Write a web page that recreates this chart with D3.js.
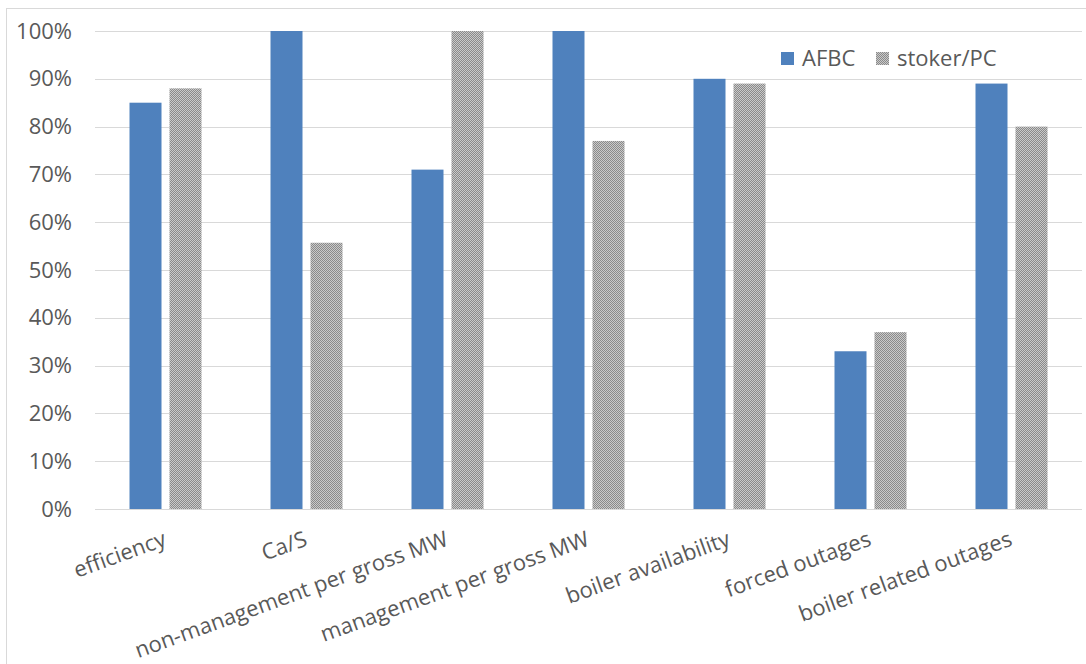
<!DOCTYPE html>
<html>
<head>
<meta charset="utf-8">
<script src="https://cdn.jsdelivr.net/npm/d3@7"></script>
<style>
  html, body { margin: 0; padding: 0; background: #fff; }
  svg { display: block; font-family: "Open Sans", "Noto Sans", sans-serif; }
</style>
</head>
<body>
<svg id="chart" width="1086" height="664"></svg>
<script>
// Relative comparison of AFBC vs stoker/PC boilers
const categories = [
  "efficiency",
  "Ca/S",
  "non-management per gross MW",
  "management per gross MW",
  "boiler availability",
  "forced outages",
  "boiler related outages"
];
const seriesNames = ["AFBC", "stoker/PC"];
const afbcValues = [85, 100, 71, 100, 90, 33, 89];
const stokerValues = [88, 55.7, 100, 77, 89, 37, 80];
const yTicks = [0, 10, 20, 30, 40, 50, 60, 70, 80, 90, 100];

const W = 1086, H = 664;
const plot = { left: 95, right: 1082, top: 31, bottom: 509 };
const FONT = "22px";

const svg = d3.select("#chart");

// hatched fill for the stoker/PC series
const defs = svg.append("defs");
const pat = defs.append("pattern")
  .attr("id", "checker")
  .attr("patternUnits", "userSpaceOnUse")
  .attr("width", 2).attr("height", 2);
pat.append("rect").attr("width", 2).attr("height", 2).attr("fill", "#c9c9c9");
pat.append("rect").attr("width", 1).attr("height", 1).attr("fill", "#8a8a8a");
pat.append("rect").attr("x", 1).attr("y", 1).attr("width", 1).attr("height", 1).attr("fill", "#8a8a8a");

const fills = { "AFBC": "#4F81BD", "stoker/PC": "url(#checker)" };

// chart frame
svg.append("rect")
  .attr("x", 6.5).attr("y", 8.5)
  .attr("width", W + 10).attr("height", H + 10)
  .attr("fill", "none").attr("stroke", "#d9d9d9");

const x0 = d3.scaleBand().domain(categories).range([plot.left, plot.right]).padding(0);
const x1 = d3.scaleBand().domain(seriesNames).range([0, x0.bandwidth()])
  .paddingInner(0.2).paddingOuter(0.8625);
const y = d3.scaleLinear().domain([0, 100]).range([plot.bottom, plot.top]);

// gridlines
svg.append("g")
  .selectAll("line")
  .data(yTicks)
  .join("line")
  .attr("x1", plot.left).attr("x2", plot.right)
  .attr("y1", d => Math.round(y(d)) + 0.5).attr("y2", d => Math.round(y(d)) + 0.5)
  .attr("stroke", "#d9d9d9").attr("stroke-width", 1);

// y axis labels
const yAxis = d3.axisLeft(y).tickValues(yTicks).tickFormat(d => d + "%").tickSize(0).tickPadding(0);
const yg = svg.append("g").attr("transform", `translate(72,0)`).call(yAxis);
yg.select(".domain").remove();
yg.selectAll("text")
  .attr("fill", "#595959")
  .style("font-size", FONT)
  .style("font-family", "'Open Sans', sans-serif");

// bars
const rows = categories.map((c, i) => ({ cat: c, vals: [
  { key: "AFBC", v: afbcValues[i] },
  { key: "stoker/PC", v: stokerValues[i] }
]}));

svg.append("g")
  .selectAll("g")
  .data(rows)
  .join("g")
  .attr("transform", d => `translate(${x0(d.cat)},0)`)
  .selectAll("rect")
  .data(d => d.vals)
  .join("rect")
  .attr("x", d => x1(d.key))
  .attr("width", x1.bandwidth())
  .attr("y", d => y(d.v))
  .attr("height", d => y(0) - y(d.v))
  .attr("fill", d => fills[d.key]);

// x axis line
svg.append("line")
  .attr("x1", plot.left).attr("x2", plot.right)
  .attr("y1", plot.bottom + 0.5).attr("y2", plot.bottom + 0.5)
  .attr("stroke", "#d9d9d9");

// rotated category labels
const xAxis = d3.axisBottom(x0).tickSize(0).tickPadding(0);
const xg = svg.append("g").attr("transform", `translate(0,${plot.bottom})`).call(xAxis);
xg.select(".domain").remove();
xg.selectAll(".tick text")
  .attr("y", 0).attr("dy", 0)
  .attr("text-anchor", "end")
  .attr("transform", "translate(2,36) rotate(-20)")
  .attr("fill", "#595959")
  .style("font-size", FONT)
  .style("font-family", "'Open Sans', sans-serif");

// legend
const legend = svg.append("g");
const legendItems = [
  { key: "AFBC", x: 781 },
  { key: "stoker/PC", x: 876 }
];
const li = legend.selectAll("g").data(legendItems).join("g")
  .attr("transform", d => `translate(${d.x},52)`);
li.append("rect").attr("width", 13).attr("height", 13).attr("fill", d => fills[d.key]);
li.append("text")
  .attr("x", 21).attr("y", 14)
  .attr("fill", "#595959")
  .style("font-size", FONT)
  .text(d => d.key);
</script>
</body>
</html>
